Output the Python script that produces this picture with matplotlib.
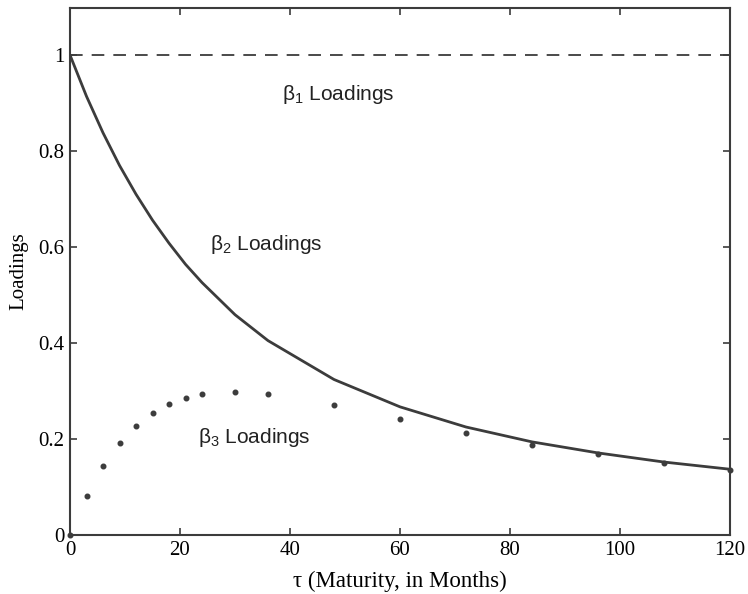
import matplotlib
matplotlib.use("Agg")
import matplotlib.pyplot as plt

maturity = [0, 3, 6, 9, 12, 15, 18, 21, 24, 30, 36, 48, 60, 72, 84, 96, 108, 120]
beta1 = [1.0] * len(maturity)
beta2 = [1.0, 0.914, 0.838, 0.770, 0.710, 0.656, 0.608, 0.564, 0.526, 0.459,
         0.405, 0.324, 0.267, 0.225, 0.194, 0.171, 0.152, 0.137]
beta3 = [0.0, 0.081, 0.144, 0.192, 0.228, 0.255, 0.273, 0.286, 0.294, 0.298,
         0.294, 0.270, 0.241, 0.213, 0.188, 0.168, 0.150, 0.136]
xticks = [0, 20, 40, 60, 80, 100, 120]
yticks = [0, 0.2, 0.4, 0.6, 0.8, 1.0]
ytick_labels = ["0", "0.2", "0.4", "0.6", "0.8", "1"]

plt.rcParams['mathtext.fontset'] = 'custom'
plt.rcParams['mathtext.rm'] = 'Liberation Sans'
plt.rcParams['mathtext.it'] = 'Liberation Sans'

col = '#3c3c3c'
fig = plt.figure(figsize=(7.48, 5.94), dpi=100)
ax = fig.add_axes([70/748, 1-535/594, 660/748, 527/594])

ax.plot(maturity, beta1, color=col, lw=1.3, dashes=(7, 5))
ax.plot(maturity, beta2, color=col, lw=2.0)
ax.plot(maturity, beta3, 'o', color=col, ms=3.3, linestyle='none', clip_on=False)

ax.set_xlim(0, 120)
ax.set_ylim(0, 1.098)
ax.set_xticks(xticks)
ax.set_xticklabels([str(v) for v in xticks], fontfamily='Liberation Serif', fontsize=15)
ax.set_yticks(yticks)
ax.set_yticklabels(ytick_labels, fontfamily='Liberation Serif', fontsize=15)
ax.tick_params(direction='in', length=5, width=1.2, color=col, top=True, right=True, pad=4)
for s in ax.spines.values():
    s.set_color(col)
    s.set_linewidth(1.5)

ax.set_xlabel('τ (Maturity, in Months)', fontfamily='Liberation Serif', fontsize=16.5, labelpad=8)
ax.set_ylabel('Loadings', fontfamily='Liberation Serif', fontsize=15, labelpad=7)

tk = dict(fontfamily='Liberation Sans', fontsize=15, color='#222222', va='center', ha='left')
ax.text(38.5, 0.918, r'β$_1$ Loadings', **tk)
ax.text(25.5, 0.605, r'β$_2$ Loadings', **tk)
ax.text(23.2, 0.203, r'β$_3$ Loadings', **tk)

fig.savefig('out.png', dpi=100)
